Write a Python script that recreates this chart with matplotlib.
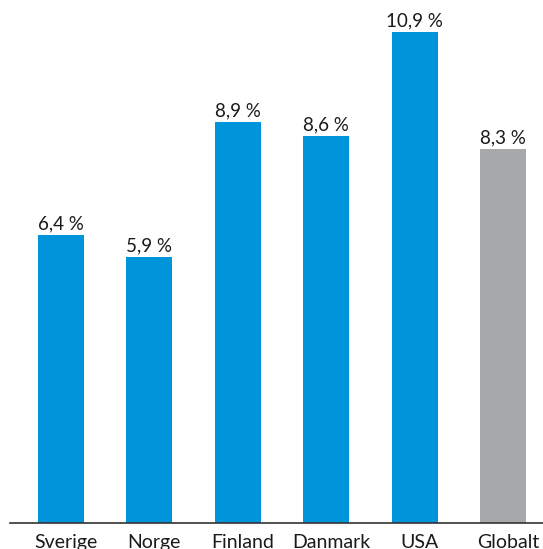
import numpy as np
import matplotlib
matplotlib.use('Agg')
import matplotlib.pyplot as plt
import matplotlib.transforms as mtransforms

plt.rcParams['font.family'] = ['Lato', 'DejaVu Sans']

countries = ['Sverige', 'Norge', 'Finland', 'Danmark', 'USA', 'Globalt']
values = [6.4, 5.9, 8.9, 8.6, 10.9, 8.3]
labels = ['6,4 %', '5,9 %', '8,9 %', '8,6 %', '10,9 %', '8,3 %']

BLUE = '#0095DA'
GREY = '#A7A8AA'
TEXT = '#1a1a1a'

fig = plt.figure(figsize=(5.43, 5.49), dpi=100)
ax = fig.add_axes([10 / 543, 26 / 549, 533 / 543, 518 / 549])

x = np.arange(len(countries))
colors = [BLUE] * 5 + [GREY]
ax.bar(x, values, width=0.52, color=colors)

for xi, v, lab in zip(x, values, labels):
    ax.text(xi, v + 0.06, lab, ha='center', va='bottom', fontsize=13.5, color=TEXT)

ax.set_xlim(-0.577, 5.452)
ax.set_ylim(0, 11.5)
ax.set_yticks([])
ax.set_xticks(x)
ax.set_xticklabels(countries, fontsize=14, color=TEXT)
ax.tick_params(axis='x', length=0, pad=8)

# labels in the original sit a little right of the bar centres
shift = mtransforms.ScaledTranslation(5 / 100, 0, fig.dpi_scale_trans)
for t in ax.get_xticklabels():
    t.set_transform(t.get_transform() + shift)

for side in ['top', 'right', 'left']:
    ax.spines[side].set_visible(False)
ax.spines['bottom'].set_color('#333333')
ax.spines['bottom'].set_linewidth(1.2)

fig.savefig('out.png', dpi=100)
